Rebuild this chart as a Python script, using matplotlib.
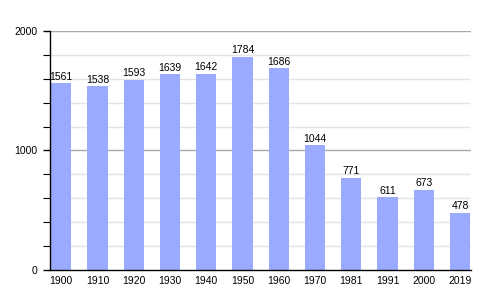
import matplotlib
matplotlib.use("Agg")
import matplotlib.pyplot as plt
import numpy as np

plt.rcParams["font.family"] = ["Liberation Sans", "DejaVu Sans"]

years = ["1900", "1910", "1920", "1930", "1940", "1950", "1960", "1970", "1981", "1991", "2000", "2019"]
population = [1561, 1538, 1593, 1639, 1642, 1784, 1686, 1044, 771, 611, 673, 478]

fig = plt.figure(figsize=(5, 3), dpi=100)
ax = fig.add_axes([0.1, 0.1, 0.842, 0.797])

x = np.arange(len(years))
bw = 0.56
ax.set_axisbelow(True)
for y in range(200, 2001, 200):
    if y % 1000 == 0:
        ax.axhline(y, color="#a8a8a8", lw=1, zorder=0)
    else:
        ax.axhline(y, color="#e4e4e4", lw=1, zorder=0)

ax.bar(x, population, width=bw, align="edge", color="#9aabff", zorder=2)
for xi, v in zip(x, population):
    ax.text(xi + bw / 2, v + 12, str(v), ha="center", va="bottom", fontsize=7.5, color="black", zorder=3)

ax.set_xlim(-0.03, len(years) - 1 + 0.58)
ax.set_ylim(0, 2000)
ax.set_xticks(x + bw / 2)
ax.set_xticklabels(years, fontsize=7.5)
ax.tick_params(axis="x", length=0, pad=4)
ax.set_yticks([0, 1000, 2000])
ax.set_yticklabels(["0", "1000", "2000"], fontsize=7.5)
ax.set_yticks(np.arange(0, 2001, 200), minor=True)
ax.tick_params(axis="y", which="major", length=5, width=1, pad=4)
ax.tick_params(axis="y", which="minor", length=5, width=0.8)
for s in ["top", "right"]:
    ax.spines[s].set_visible(False)
ax.spines["left"].set_linewidth(1)
ax.spines["bottom"].set_linewidth(1)

fig.savefig("out.png", dpi=100)
